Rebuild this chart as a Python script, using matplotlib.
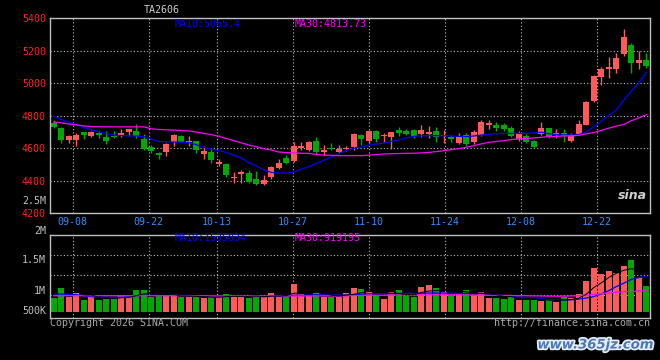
import numpy as np
import matplotlib
matplotlib.use('Agg')
import matplotlib.pyplot as plt
import matplotlib.patheffects as pe

# daily bars 09-03 .. 12-31 (80 sessions)
opens = [4755, 4721, 4649, 4649, 4697, 4672, 4694, 4670, 4675, 4680,
         4700, 4706, 4655, 4608, 4567, 4575, 4639, 4674, 4639, 4643,
         4563, 4577, 4500, 4502, 4415, 4440, 4444, 4409, 4380, 4423,
         4475, 4537, 4520, 4598, 4588, 4643, 4575, 4602, 4577, 4592,
         4604, 4680, 4643, 4705, 4672, 4666, 4711, 4705, 4711, 4686,
         4686, 4705, 4674, 4670, 4633, 4680, 4639, 4680, 4742, 4742,
         4742, 4721, 4653, 4674, 4643, 4686, 4721, 4686, 4694, 4645,
         4686, 4742, 4891, 5039, 5084, 5084, 5178, 5234, 5125, 5141]
highs = [4770, 4727, 4680, 4695, 4700, 4705, 4705, 4705, 4706, 4717,
         4718, 4745, 4685, 4620, 4575, 4629, 4686, 4680, 4674, 4645,
         4612, 4600, 4530, 4505, 4450, 4465, 4462, 4460, 4436, 4490,
         4530, 4560, 4640, 4636, 4645, 4665, 4618, 4630, 4618, 4612,
         4692, 4685, 4712, 4708, 4690, 4697, 4730, 4718, 4718, 4742,
         4735, 4730, 4711, 4680, 4690, 4692, 4711, 4775, 4770, 4760,
         4752, 4735, 4705, 4686, 4650, 4760, 4722, 4715, 4715, 4690,
         4770, 4890, 5049, 5097, 5162, 5183, 5330, 5244, 5199, 5183]
lows = [4722, 4633, 4628, 4610, 4653, 4665, 4660, 4625, 4660, 4668,
        4675, 4660, 4585, 4570, 4530, 4550, 4615, 4635, 4612, 4570,
        4530, 4505, 4487, 4420, 4385, 4385, 4385, 4375, 4372, 4410,
        4470, 4500, 4515, 4590, 4580, 4560, 4560, 4585, 4568, 4580,
        4590, 4618, 4630, 4640, 4640, 4592, 4672, 4680, 4660, 4668,
        4660, 4640, 4629, 4640, 4625, 4610, 4625, 4675, 4720, 4705,
        4705, 4668, 4645, 4630, 4600, 4680, 4660, 4660, 4640, 4640,
        4680, 4740, 4885, 4988, 5029, 5060, 5166, 5064, 5084, 5090]
closes = [4727, 4649, 4674, 4680, 4680, 4700, 4680, 4645, 4670, 4690,
          4715, 4674, 4594, 4583, 4557, 4625, 4680, 4639, 4645, 4588,
          4583, 4526, 4512, 4434, 4420, 4452, 4393, 4378, 4405, 4485,
          4510, 4506, 4614, 4612, 4639, 4577, 4588, 4594, 4592, 4602,
          4686, 4655, 4706, 4653, 4675, 4697, 4690, 4686, 4674, 4711,
          4697, 4670, 4680, 4653, 4666, 4625, 4700, 4762, 4752, 4721,
          4715, 4674, 4686, 4639, 4608, 4721, 4670, 4694, 4674, 4680,
          4750, 4885, 5043, 5084, 5097, 5152, 5281, 5125, 5141, 5104]

ma10 = [4795, 4775, 4760, 4745, 4725, 4712, 4700, 4688, 4680, 4677,
        4675, 4674, 4670, 4655, 4640, 4638, 4637, 4636, 4634, 4620,
        4605, 4593, 4585, 4572, 4555, 4540, 4510, 4490, 4465, 4450,
        4446, 4445, 4452, 4470, 4485, 4505, 4525, 4545, 4565, 4585,
        4598, 4606, 4618, 4625, 4630, 4640, 4650, 4662, 4672, 4675,
        4676, 4676, 4675, 4674, 4672, 4670, 4674, 4680, 4685, 4688,
        4690, 4690, 4690, 4690, 4693, 4697, 4688, 4683, 4680, 4680,
        4682, 4700, 4730, 4765, 4800, 4834, 4895, 4950, 5000, 5065]
ma30 = [4760, 4755, 4748, 4742, 4736, 4732, 4731, 4730, 4730, 4730,
        4730, 4730, 4730, 4718, 4714, 4712, 4710, 4708, 4705, 4698,
        4690, 4682, 4672, 4658, 4645, 4632, 4618, 4608, 4595, 4588,
        4575, 4572, 4570, 4568, 4567, 4560, 4556, 4555, 4553, 4553,
        4553, 4553, 4556, 4560, 4563, 4565, 4566, 4567, 4568, 4570,
        4573, 4578, 4584, 4590, 4596, 4604, 4614, 4625, 4635, 4640,
        4645, 4652, 4656, 4658, 4662, 4666, 4670, 4672, 4674, 4675,
        4678, 4688, 4695, 4708, 4722, 4735, 4745, 4768, 4785, 4805]

# volume, millions
vol = [0.61, 1.04, 0.66, 0.82, 0.53, 0.63, 0.53, 0.57, 0.60, 0.72,
       0.69, 0.95, 0.95, 0.66, 0.69, 0.69, 0.78, 0.64, 0.64, 0.64,
       0.61, 0.63, 0.63, 0.78, 0.69, 0.63, 0.60, 0.73, 0.63, 0.82,
       0.64, 0.72, 1.22, 0.78, 0.69, 0.86, 0.66, 0.63, 0.66, 0.82,
       1.04, 1.00, 0.91, 0.73, 0.55, 0.86, 0.95, 0.69, 0.64, 1.08,
       1.17, 1.04, 0.86, 0.73, 0.78, 0.95, 0.73, 0.86, 0.60, 0.60,
       0.55, 0.69, 0.53, 0.51, 0.51, 0.47, 0.51, 0.44, 0.64, 0.60,
       0.78, 1.35, 1.93, 1.66, 1.79, 1.71, 2.01, 2.27, 1.47, 1.13]
vma10 = [0.78, 0.77, 0.76, 0.74, 0.70, 0.66, 0.64, 0.63, 0.63, 0.64,
         0.66, 0.70, 0.72, 0.72, 0.71, 0.71, 0.72, 0.72, 0.71, 0.70,
         0.70, 0.69, 0.69, 0.68, 0.68, 0.67, 0.66, 0.67, 0.66, 0.67,
         0.68, 0.68, 0.72, 0.72, 0.73, 0.74, 0.74, 0.73, 0.73, 0.73,
         0.74, 0.76, 0.78, 0.79, 0.78, 0.79, 0.80, 0.80, 0.80, 0.81,
         0.82, 0.82, 0.82, 0.81, 0.80, 0.80, 0.80, 0.80, 0.78, 0.74,
         0.70, 0.68, 0.65, 0.62, 0.60, 0.57, 0.53, 0.51, 0.51, 0.52,
         0.55, 0.60, 0.66, 0.78, 0.92, 1.10, 1.25, 1.42, 1.50, 1.54]
vma30 = [0.70] * 21 + [0.69] * 19 + \
        [0.71, 0.71, 0.72, 0.72, 0.72, 0.73, 0.73, 0.73, 0.73, 0.74,
         0.74, 0.74, 0.74, 0.74, 0.74, 0.73, 0.73, 0.73, 0.72, 0.72,
         0.71, 0.71, 0.70, 0.70, 0.69, 0.69, 0.68, 0.68, 0.68, 0.69,
         0.70, 0.72, 0.75, 0.79, 0.82, 0.85, 0.87, 0.89, 0.91, 0.92]

tick_idx = [3, 13, 22, 32, 42, 52, 62, 72]
tick_labels = ['09-08', '09-22', '10-13', '10-27', '11-10', '11-24', '12-08', '12-22']
price_ticks = [4200, 4400, 4600, 4800, 5000, 5200, 5400]

RED = '#ff5a5a'
GREEN = '#00a800'
GRID = '#c0c0c0'
FONT = 'DejaVu Sans Mono'
plt.rcParams['font.family'] = FONT

o = np.array(opens); h = np.array(highs); l = np.array(lows); c = np.array(closes)
v = np.array(vol) * 1e6
x = np.arange(len(c))
cols = np.where(c >= o, RED, GREEN)

fig = plt.figure(figsize=(6.6, 3.6), dpi=100, facecolor='black')
ax = fig.add_axes([50/660, 1-213/360, 600/660, 195/360], facecolor='black')
axv = fig.add_axes([50/660, 1-318.3/360, 600/660, 83.6/360], facecolor='black')

# sina puts its date grid at i*80/79 instead of i (off by one)
grid_x = [i * 80 / 79 - 0.5 for i in tick_idx]

for a in (ax, axv):
    a.set_xlim(-0.5, 79.5)
    for s in a.spines.values():
        s.set_color(GRID)
        s.set_linewidth(1)
    a.set_xticks(grid_x)
    a.grid(True, color=GRID, linestyle=(0, (1, 2)), linewidth=0.8)
    a.set_axisbelow(True)
    a.tick_params(length=0)

# price panel
ax.vlines(x, l, h, colors=cols, linewidth=1)
ax.bar(x, np.maximum(np.abs(c - o), 6), bottom=np.minimum(o, c), width=0.8,
       color=cols, linewidth=0)
ax.plot(x, ma10, color='#0000ff', lw=0.9)
ax.plot(x, ma30, color='#ff00ff', lw=0.9)
ax.set_ylim(4200, 5400)
ax.set_yticks(price_ticks)
ax.set_yticklabels([str(p) for p in price_ticks], color='#ff2020', fontsize=7.2)
ax.set_xticklabels(tick_labels, color='#2f8fff', fontsize=7.2)
ax.tick_params(axis='y', pad=3)
ax.tick_params(axis='x', pad=3)
ax.text(125/600, 0.971, 'MA10:5065.4', transform=ax.transAxes, color='#0000ff',
        fontsize=7.2, va='center')
ax.text(245/600, 0.971, 'MA30:4813.73', transform=ax.transAxes, color='#ff00ff',
        fontsize=7.2, va='center')
ax.text(0.995, 0.09, 'sina', transform=ax.transAxes, color='#d0d0d0', fontsize=9,
        fontstyle='italic', fontweight='bold', ha='right', va='center',
        family='DejaVu Sans')

# volume panel
axv.bar(x, v, width=0.8, color=cols, linewidth=0)
axv.plot(x, np.array(vma10) * 1e6, color='#0000ff', lw=0.9)
axv.plot(x, np.array(vma30) * 1e6, color='#ff00ff', lw=0.9)
ma5 = np.convolve(v, np.ones(5) / 5, mode='valid')
axv.plot(x[4:], ma5, color='black', lw=0.7)
axv.set_ylim(-0.295e6, 3.388e6)
axv.set_yticks([0.731e6, 1.612e6, 2.493e6])
axv.set_yticklabels([])
axv.set_xticklabels([])
axv.text(125/600, 0.957, 'MA10:1535834', transform=axv.transAxes, color='#0000ff',
         fontsize=7.2, va='center')
axv.text(245/600, 0.957, 'MA30:919195', transform=axv.transAxes, color='#ff00ff',
         fontsize=7.2, va='center')

# volume scale labels sit where sina draws them, not on its own grid
for lab, py in [('2.5M', 200.5), ('2M', 230.7), ('1.5M', 260.3), ('1M', 290.7), ('500K', 310.7)]:
    fig.text(46/660, 1 - py/360, lab, color='#c0c0c0', fontsize=7.2, ha='right', va='center')

fig.text(162/660, 1 - 10/360, 'TA2606', color='#d0d0d0', fontsize=7.2, ha='center', va='center')
fig.text(50/660, 1 - 323.3/360, 'Copyright 2026 SINA.COM', color='#a8a8a8', fontsize=7.2,
         va='center')
fig.text(650/660, 1 - 323.3/360, 'http://finance.sina.com.cn', color='#a8a8a8', fontsize=7.2,
         ha='right', va='center')
fig.text(654/660, 1 - 345/360, 'www.365jz.com', color='#4a78b8', fontsize=9.5,
         fontweight='bold', fontstyle='italic', ha='right', va='center', family='DejaVu Sans',
         path_effects=[pe.withStroke(linewidth=2.5, foreground='#e8eef8')])

fig.savefig('out.png', dpi=100, facecolor='black')
